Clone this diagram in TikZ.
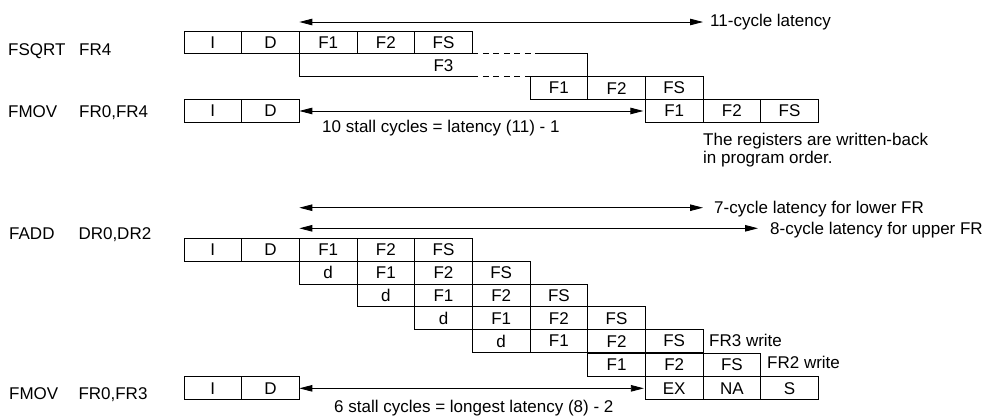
\documentclass[tikz,border=0pt]{standalone}
\usepackage{fontspec}
\setmainfont{Liberation Sans}
\usetikzlibrary{arrows.meta}
\newcommand\pc[4]{\node[cell] (#1) at ({184+57.67*#2},#3) {#4};}
\begin{document}
\begin{tikzpicture}[x=1pt,y=-1pt,
  cell/.style={draw, line width=0.85pt, anchor=north west, minimum width=57.67pt,
    minimum height=22.85pt, inner sep=0pt, outer sep=0pt, font=\fontsize{17}{20}\selectfont},
  lbl/.style={anchor=base west, inner sep=0pt, font=\fontsize{17}{20}\selectfont},
  boxline/.style={line width=0.85pt},
  dimarrow/.style={line width=0.85pt, {Triangle[length=13pt,width=6.5pt]}-{Triangle[length=13pt,width=6.5pt]}}]
\useasboundingbox[fill=white] (0,0) rectangle (990,416);

% ---------- FSQRT / FMOV ----------
\node[lbl] (m1) at (8,55) {FSQRT};
\node[lbl] (o1) at (79,55) {FR4};
\node[lbl] (m2) at (8,117.5) {FMOV};
\node[lbl] (o2) at (79,117.5) {FR0,FR4};

\pc{aI}{0}{31}{I}
\pc{aD}{1}{31}{D}
\pc{aF1}{2}{31}{F1}
\pc{aF2}{3}{31}{F2}
\pc{aFS}{4}{31}{FS}

% F3 stage (partly dashed)
\draw[boxline] (299.34,53.85) -- (299.34,76.7) -- (472.35,76.7);
\draw[boxline, dash pattern=on 6pt off 4.5pt] (472.35,76.7) -- (530,76.7);
\draw[boxline, dash pattern=on 6pt off 4.5pt] (472.35,53.85) -- (535,53.85);
\draw[boxline] (535,53.85) -- (587.69,53.85) -- (587.69,76.7);
\node[font=\fontsize{17}{20}\selectfont, inner sep=0pt] (aF3) at (443.5,65.3) {F3};

\pc{bF1}{6}{76.7}{F1}
\pc{bF2}{7}{76.7}{F2}
\pc{bFS}{8}{76.7}{FS}

\pc{cI}{0}{99.55}{I}
\pc{cD}{1}{99.55}{D}
\pc{cF1}{8}{99.55}{F1}
\pc{cF2}{9}{99.55}{F2}
\pc{cFS}{10}{99.55}{FS}

\coordinate (l11a) at (299.34,22);
\coordinate (l11b) at (703,22);
\draw[dimarrow] (l11a) -- (l11b);
\node[lbl] (l11t) at (710,26.5) {11-cycle latency};

\draw[dimarrow, shorten >=2pt] (cD.east) -- (cF1.west);
\node[lbl] (st1) at (322,132) {10 stall cycles = latency (11) - 1};
\node[lbl] (reg1) at (703,145) {The registers are written-back};
\node[lbl] (reg2) at (703,163.5) {in program order.};

% ---------- FADD / FMOV ----------
\node[lbl] (m3) at (9,239) {FADD};
\node[lbl] (o3) at (78.3,239) {DR0,DR2};
\node[lbl] (m4) at (9,399) {FMOV};
\node[lbl] (o4) at (78.3,399) {FR0,FR3};

\coordinate (l7a) at (299.34,207.7);
\coordinate (l7b) at (703,207.7);
\draw[dimarrow] (l7a) -- (l7b);
\node[lbl] (l7t) at (714,213.9) {7-cycle latency for lower FR};

\coordinate (l8a) at (299.34,228.3);
\coordinate (l8b) at (758,228.3);
\draw[dimarrow] (l8a) -- (l8b);
\node[lbl] (l8t) at (770,234.5) {8-cycle latency for upper FR};

\pc{dI}{0}{238.3}{I}
\pc{dD}{1}{238.3}{D}
\pc{dF1}{2}{238.3}{F1}
\pc{dF2}{3}{238.3}{F2}
\pc{dFS}{4}{238.3}{FS}

\pc{eD}{2}{261.15}{d}
\pc{eF1}{3}{261.15}{F1}
\pc{eF2}{4}{261.15}{F2}
\pc{eFS}{5}{261.15}{FS}

\pc{fD}{3}{284.0}{d}
\pc{fF1}{4}{284.0}{F1}
\pc{fF2}{5}{284.0}{F2}
\pc{fFS}{6}{284.0}{FS}

\pc{gD}{4}{306.85}{d}
\pc{gF1}{5}{306.85}{F1}
\pc{gF2}{6}{306.85}{F2}
\pc{gFS}{7}{306.85}{FS}

\pc{hD}{5}{329.7}{d}
\pc{hF1}{6}{329.7}{F1}
\pc{hF2}{7}{329.7}{F2}
\pc{hFS}{8}{329.7}{FS}
\node[lbl] (w3) at (709,346) {FR3 write};

\pc{iF1}{7}{353.4}{F1}
\pc{iF2}{8}{353.4}{F2}
\pc{iFS}{9}{353.4}{FS}
\node[lbl] (w2) at (767,368) {FR2 write};

\pc{jI}{0}{376.9}{I}
\pc{jD}{1}{376.9}{D}
\pc{jEX}{8}{376.9}{EX}
\pc{jNA}{9}{376.9}{NA}
\pc{jS}{10}{376.9}{S}

\draw[dimarrow, shorten >=1.5pt] (jD.east) -- (jEX.west);
\node[lbl] (st2) at (334,412.3) {6 stall cycles = longest latency (8) - 2};
\end{tikzpicture}
\end{document}
